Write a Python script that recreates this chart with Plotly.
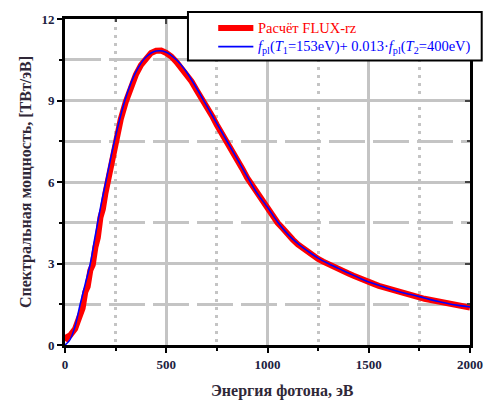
import plotly.graph_objects as go

# Blue model curve (smooth), energy in eV
blue_e = [0, 25, 50, 75, 100, 125, 150, 175, 200, 250, 300, 350, 400, 450, 500, 550, 600, 650, 700, 750,
          800, 850, 900, 950, 1000, 1050, 1100, 1150, 1200, 1250, 1300, 1350, 1400, 1450, 1500, 1550,
          1600, 1650, 1700, 1750, 1800, 1850, 1900, 1950, 2000]
blue_v = [0, 0.2, 0.7, 1.5, 2.25, 3.0, 4.05, 5.05, 5.95, 7.7, 9.1, 10.05, 10.6, 10.82, 10.78, 10.5, 10.05,
          9.45, 8.8, 8.15, 7.5, 6.85, 6.2, 5.57, 5.07, 4.53, 4.08, 3.73, 3.45, 3.2, 3.0, 2.82, 2.65, 2.48,
          2.32, 2.2, 2.07, 1.96, 1.87, 1.78, 1.68, 1.59, 1.51, 1.45, 1.40]

# Red FLUX-rz calculation (noisy), energy in eV
red_e = [0, 12, 25, 37, 50, 62, 75, 87, 100, 112, 125, 137, 150, 162, 175, 187, 200, 212, 225, 237, 250,
         275, 300, 325, 350, 375, 400, 425, 450, 475,
         500, 525, 550, 575, 600, 625, 650, 675, 700, 725, 750, 775, 800, 825, 850, 875, 900, 925, 950, 975,
         1000, 1025, 1050, 1075, 1100, 1125, 1150, 1175, 1200, 1225, 1250, 1275, 1300, 1325, 1350, 1375,
         1400, 1425, 1450, 1475, 1500, 1525, 1550, 1575, 1600, 1625, 1650, 1675, 1700, 1725, 1750, 1775,
         1800, 1825, 1850, 1875, 1900, 1925, 1950, 1975, 2000]
red_v = [0.15, 0.3, 0.35, 0.45, 0.6, 0.85, 1.2, 1.35, 1.95, 2.15, 2.75, 2.95, 3.6, 3.95, 4.7, 5.0, 5.6, 6.05,
         6.6, 7.0, 7.45, 8.3, 8.95, 9.5, 9.95, 10.3, 10.55, 10.75, 10.83, 10.84,
         10.75, 10.62, 10.42, 10.2, 9.95, 9.7, 9.38, 9.1, 8.75, 8.45, 8.1, 7.8, 7.45, 7.15, 6.8, 6.5,
         6.15, 5.88, 5.55, 5.3, 5.02, 4.78, 4.5, 4.3, 4.05, 3.88, 3.7, 3.56, 3.42, 3.3, 3.17, 3.07, 2.97,
         2.88, 2.8, 2.71, 2.63, 2.55, 2.46, 2.4, 2.31, 2.25, 2.18, 2.12, 2.06, 2.0, 1.95, 1.9, 1.85,
         1.8, 1.75, 1.7, 1.66, 1.61, 1.57, 1.53, 1.49, 1.46, 1.43, 1.4, 1.38]

x_ticks = [0, 500, 1000, 1500, 2000]
y_ticks = [0, 3, 6, 9, 12]
x_minor = [250, 750, 1250, 1750]
y_minor = [1.5, 4.5, 7.5, 10.5]

red_label = "Расчёт FLUX-rz"
blue_label = ("<i>f</i><sub>pl</sub>(<i>T</i><sub>1</sub>=153eV)+ 0.013·"
              "<i>f</i><sub>pl</sub>(<i>T</i><sub>2</sub>=400eV)")
x_title = "Энергия фотона, эВ"
y_title = "Спектральная мощность, [ТВт/эВ]"

FONT = "Liberation Serif"
RED = "#ff0000"
BLUE = "#0000ff"

fig = go.Figure()
fig.add_trace(go.Scatter(x=red_e, y=red_v, mode="lines", line=dict(color=RED, width=6),
                         name=red_label, showlegend=False))
fig.add_trace(go.Scatter(x=blue_e, y=blue_v, mode="lines", line=dict(color=BLUE, width=1.6, shape="spline"),
                         name=blue_label, showlegend=False))
# invisible trace on mirror axes
fig.add_trace(go.Scatter(x=[0], y=[0], xaxis="x2", yaxis="y2", mode="markers",
                         marker=dict(opacity=0), showlegend=False, hoverinfo="skip"))

grid_col = "#c4c4c4"
axis_common = dict(showline=True, linecolor="black", linewidth=3, ticks="outside", ticklen=5,
                   tickwidth=2, tickcolor="black", zeroline=False, gridcolor=grid_col, gridwidth=2.5,
                   tickfont=dict(family=FONT, size=13, color="#202040", weight="bold"))

fig.update_layout(
    width=495, height=404,
    margin=dict(l=65, r=15, t=15, b=59),
    plot_bgcolor="white", paper_bgcolor="white",
    showlegend=False,
    xaxis=dict(range=[0, 2000], tickvals=x_ticks, ticktext=[str(v) for v in x_ticks],
               minor=dict(tickvals=x_minor, ticks="outside", ticklen=3, tickwidth=2,
                          tickcolor="black", showgrid=True, gridcolor=grid_col, gridwidth=2.5, griddash="3px,5px"),
               **axis_common),
    yaxis=dict(range=[0, 12], tickvals=y_ticks, ticktext=[str(v) for v in y_ticks],
               title=dict(text=y_title, font=dict(family=FONT, size=16, color="#302838", weight="bold"),
                          standoff=6),
               minor=dict(tickvals=y_minor, ticks="outside", ticklen=3, tickwidth=2,
                          tickcolor="black", showgrid=True, gridcolor=grid_col, gridwidth=2.5, griddash="36px,8px"),
               **axis_common),
    xaxis2=dict(range=[0, 2000], overlaying="x", side="top", showline=True, linecolor="black", linewidth=3,
                ticks="inside", ticklen=5, tickwidth=2, tickvals=x_ticks, showticklabels=False, showgrid=False,
                zeroline=False, anchor="y2",
                minor=dict(tickvals=x_minor, ticks="inside", ticklen=3, tickwidth=2)),
    yaxis2=dict(range=[0, 12], overlaying="y", side="right", showline=True, linecolor="black", linewidth=3,
                ticks="inside", ticklen=5, tickwidth=2, tickvals=y_ticks, showticklabels=False, showgrid=False,
                zeroline=False, anchor="x2",
                minor=dict(tickvals=y_minor, ticks="inside", ticklen=3, tickwidth=2)),
)

# x axis title as annotation
fig.add_annotation(text=x_title, xref="paper", yref="paper", x=0.537, y=-0.142, xanchor="center",
                   yanchor="middle", showarrow=False,
                   font=dict(family=FONT, size=16, color="#302838", weight="bold"))

# manual legend (pixel positions converted to paper coordinates)
def px(xp):
    return (xp - 65) / 415.0

def py(yp):
    return (345 - yp) / 330.0

fig.add_shape(type="rect", xref="paper", yref="paper", x0=px(191), x1=px(492), y0=py(57), y1=py(8),
              line=dict(color="black", width=2), fillcolor="white", layer="above")
fig.add_shape(type="line", xref="paper", yref="paper", x0=px(222), x1=px(258), y0=py(24), y1=py(24),
              line=dict(color=RED, width=6), layer="above")
fig.add_shape(type="line", xref="paper", yref="paper", x0=px(222), x1=px(258), y0=py(43), y1=py(43),
              line=dict(color=BLUE, width=1.6), layer="above")
fig.add_annotation(text=red_label, xref="paper", yref="paper", x=px(261), y=py(24), xanchor="left",
                   yanchor="middle", showarrow=False, font=dict(family=FONT, size=14.5, color=RED))
fig.add_annotation(text=blue_label, xref="paper", yref="paper", x=px(261), y=py(43), xanchor="left",
                   yanchor="middle", showarrow=False, font=dict(family=FONT, size=14.5, color=BLUE))

fig.write_html("out.html")
